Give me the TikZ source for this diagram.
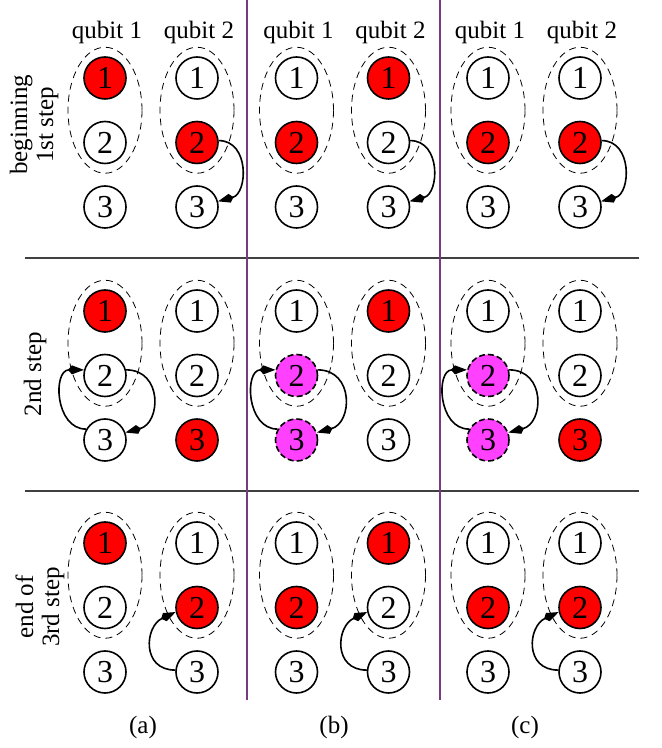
\documentclass[tikz,border=0pt]{standalone}
\usepackage{fontspec}
\setmainfont{Liberation Serif}
\usetikzlibrary{arrows.meta}
\definecolor{divline}{RGB}{122,58,130}
\definecolor{mixpink}{RGB}{255,64,255}
\tikzset{
  lvl/.style={circle,draw,line width=1.6pt,minimum size=42pt,inner sep=0pt,font=\fontsize{32}{34}\selectfont},
  q/.style={lvl,fill=white},
  on/.style={lvl,fill=red},
  mix/.style={lvl,fill=mixpink,dash pattern=on 6pt off 3pt},
  ring/.style={line width=.8pt,dash pattern=on 7pt off 5pt},
  flow/.style={->,line width=1.6pt},
  txt/.style={font=\fontsize{25}{26}\selectfont,inner sep=0pt},
}
% two qubits of one cell: #1 name, #2 x, #3 y of level 1, #4-#9 styles
\newcommand{\qpair}[9]{%
  \draw[ring] (#2,#3-32.25) ellipse (37pt and 63pt);
  \draw[ring] (#2+92,#3-32.25) ellipse (37pt and 63pt);
  \node[#4] (#1-11) at (#2,#3) {1};
  \node[#5] (#1-12) at (#2,#3-64.5) {2};
  \node[#6] (#1-13) at (#2,#3-129) {3};
  \node[#7] (#1-21) at (#2+92,#3) {1};
  \node[#8] (#1-22) at (#2+92,#3-64.5) {2};
  \node[#9] (#1-23) at (#2+92,#3-129) {3};
}
\begin{document}
\begin{tikzpicture}[x=1pt,y=1pt,line join=round,>={Kite[length=16pt,width=9pt,inset=4pt]}]
\useasboundingbox (0,0) rectangle (662,748);
%grid lines
\draw[line width=1.4pt,black!75] (25,490)--(639,490) (25,257)--(639,257);
\draw[line width=1.8pt,divline] (247,748)--(247,48) (440,748)--(440,48);
%column and row labels
\foreach \x in {107,298.5,490} {
  \node[txt] at (\x,716) {qubit 1};
  \node[txt] at (\x+92,716) {qubit 2};
}
\node[txt,rotate=90,align=center] at (34,623) {beginning\\1st step};
\node[txt,rotate=90] at (35,374) {2nd step};
\node[txt,rotate=90,align=center] at (40,141) {end of\\3rd step};
\node[txt] at (143,21) {(a)};
\node[txt] at (334,21) {(b)};
\node[txt] at (525,21) {(c)};
%beginning of 1st step
\qpair{a1}{105}{670}{on}{q}{q}{q}{on}{q}
\qpair{b1}{296.5}{670}{q}{on}{q}{on}{q}{q}
\qpair{c1}{488}{670}{q}{on}{q}{q}{on}{q}
%2nd step
\qpair{a2}{105}{437}{on}{q}{q}{q}{q}{on}
\qpair{b2}{296.5}{437}{q}{mix}{mix}{on}{q}{q}
\qpair{c2}{488}{437}{q}{mix}{mix}{q}{q}{on}
%end of 3rd step
\qpair{a3}{105}{205}{on}{q}{q}{q}{on}{q}
\qpair{b3}{296.5}{205}{q}{on}{q}{on}{q}{q}
\qpair{c3}{488}{205}{q}{on}{q}{q}{on}{q}
%transitions
\foreach \p in {a,b,c} {
  \draw[flow] (\p1-22.5) to[out=0,in=15,looseness=1.3] (\p1-23.15);
  \draw[flow] (\p2-12.15) to[out=0,in=15,looseness=1.5] (\p2-13.20);
  \draw[flow] (\p2-13.150) to[out=180,in=180,looseness=1.35] (\p2-12.165);
  \draw[flow] (\p3-23.175) to[out=180,in=205,looseness=1.5] (\p3-22.192);
}
\end{tikzpicture}
\end{document}
